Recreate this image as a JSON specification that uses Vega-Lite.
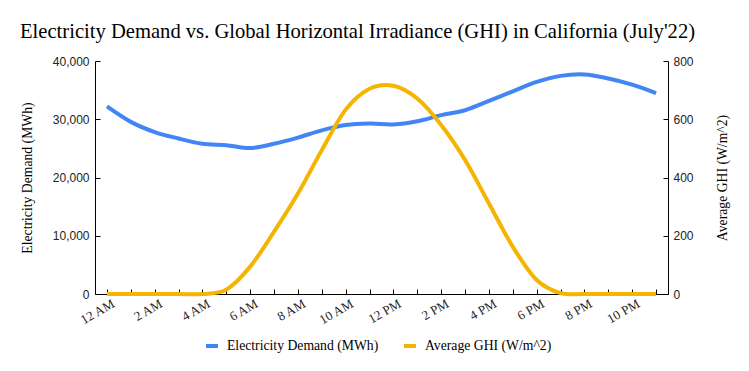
{
  "$schema": "https://vega.github.io/schema/vega-lite/v6.json",
  "autosize": "none",
  "width": 573,
  "height": 233,
  "padding": {"left": 95, "top": 61, "right": 81, "bottom": 77},
  "background": "white",
  "title": {
    "text": "Electricity Demand vs. Global Horizontal Irradiance (GHI) in California (July'22)",
    "font": "Liberation Serif",
    "fontSize": 20.6,
    "fontWeight": "normal",
    "color": "#000000",
    "anchor": "start",
    "frame": "group",
    "dx": -75,
    "offset": 12
  },
  "config": {
    "view": {"stroke": null},
    "axis": {
      "grid": false,
      "labelFont": "Liberation Sans",
      "labelFontSize": 12,
      "labelColor": "#222222",
      "titleFont": "Liberation Serif",
      "titleFontSize": 13.7,
      "titleFontWeight": "normal",
      "titleColor": "#000000",
      "domainColor": "#000000",
      "tickColor": "#000000",
      "tickSize": -5
    }
  },
  "data": {
    "values": [
      {"hour": "12 AM", "series": "Electricity Demand (MWh)", "value": 32200},
      {"hour": "1 AM", "series": "Electricity Demand (MWh)", "value": 29550},
      {"hour": "2 AM", "series": "Electricity Demand (MWh)", "value": 27800},
      {"hour": "3 AM", "series": "Electricity Demand (MWh)", "value": 26700},
      {"hour": "4 AM", "series": "Electricity Demand (MWh)", "value": 25800},
      {"hour": "5 AM", "series": "Electricity Demand (MWh)", "value": 25550},
      {"hour": "6 AM", "series": "Electricity Demand (MWh)", "value": 25050},
      {"hour": "7 AM", "series": "Electricity Demand (MWh)", "value": 25800},
      {"hour": "8 AM", "series": "Electricity Demand (MWh)", "value": 26850},
      {"hour": "9 AM", "series": "Electricity Demand (MWh)", "value": 28100},
      {"hour": "10 AM", "series": "Electricity Demand (MWh)", "value": 29000},
      {"hour": "11 AM", "series": "Electricity Demand (MWh)", "value": 29250},
      {"hour": "12 PM", "series": "Electricity Demand (MWh)", "value": 29100},
      {"hour": "1 PM", "series": "Electricity Demand (MWh)", "value": 29650},
      {"hour": "2 PM", "series": "Electricity Demand (MWh)", "value": 30700},
      {"hour": "3 PM", "series": "Electricity Demand (MWh)", "value": 31550},
      {"hour": "4 PM", "series": "Electricity Demand (MWh)", "value": 33150},
      {"hour": "5 PM", "series": "Electricity Demand (MWh)", "value": 34800},
      {"hour": "6 PM", "series": "Electricity Demand (MWh)", "value": 36400},
      {"hour": "7 PM", "series": "Electricity Demand (MWh)", "value": 37450},
      {"hour": "8 PM", "series": "Electricity Demand (MWh)", "value": 37700},
      {"hour": "9 PM", "series": "Electricity Demand (MWh)", "value": 37000},
      {"hour": "10 PM", "series": "Electricity Demand (MWh)", "value": 35950},
      {"hour": "11 PM", "series": "Electricity Demand (MWh)", "value": 34500},
      {"hour": "12 AM", "series": "Average GHI (W/m^2)", "value": 0},
      {"hour": "1 AM", "series": "Average GHI (W/m^2)", "value": 0},
      {"hour": "2 AM", "series": "Average GHI (W/m^2)", "value": 0},
      {"hour": "3 AM", "series": "Average GHI (W/m^2)", "value": 0},
      {"hour": "4 AM", "series": "Average GHI (W/m^2)", "value": 0},
      {"hour": "5 AM", "series": "Average GHI (W/m^2)", "value": 15},
      {"hour": "6 AM", "series": "Average GHI (W/m^2)", "value": 94},
      {"hour": "7 AM", "series": "Average GHI (W/m^2)", "value": 214},
      {"hour": "8 AM", "series": "Average GHI (W/m^2)", "value": 345},
      {"hour": "9 AM", "series": "Average GHI (W/m^2)", "value": 494},
      {"hour": "10 AM", "series": "Average GHI (W/m^2)", "value": 633},
      {"hour": "11 AM", "series": "Average GHI (W/m^2)", "value": 705},
      {"hour": "12 PM", "series": "Average GHI (W/m^2)", "value": 715},
      {"hour": "1 PM", "series": "Average GHI (W/m^2)", "value": 671},
      {"hour": "2 PM", "series": "Average GHI (W/m^2)", "value": 580},
      {"hour": "3 PM", "series": "Average GHI (W/m^2)", "value": 460},
      {"hour": "4 PM", "series": "Average GHI (W/m^2)", "value": 311},
      {"hour": "5 PM", "series": "Average GHI (W/m^2)", "value": 162},
      {"hour": "6 PM", "series": "Average GHI (W/m^2)", "value": 48},
      {"hour": "7 PM", "series": "Average GHI (W/m^2)", "value": 3},
      {"hour": "8 PM", "series": "Average GHI (W/m^2)", "value": 0},
      {"hour": "9 PM", "series": "Average GHI (W/m^2)", "value": 0},
      {"hour": "10 PM", "series": "Average GHI (W/m^2)", "value": 0},
      {"hour": "11 PM", "series": "Average GHI (W/m^2)", "value": 0}
    ]
  },
  "encoding": {
    "x": {
      "field": "hour",
      "type": "ordinal",
      "sort": null,
      "scale": {"type": "point", "padding": 0.5},
      "axis": {
        "title": null,
        "labelFont": "Liberation Serif",
        "labelFontSize": 13,
        "labelAngle": -30,
        "labelAlign": "right",
        "labelBaseline": "top",
        "labelPadding": 8,
        "labelOffset": 3,
        "labelOverlap": false,
        "labelExpr": "indexof(['12 AM','2 AM','4 AM','6 AM','8 AM','10 AM','12 PM','2 PM','4 PM','6 PM','8 PM','10 PM'], datum.label) >= 0 ? datum.label : ''"
      }
    },
    "color": {
      "field": "series",
      "type": "nominal",
      "scale": {
        "domain": ["Electricity Demand (MWh)", "Average GHI (W/m^2)"],
        "range": ["#4285F4", "#F4B400"]
      },
      "legend": {
        "title": null,
        "orient": "none",
        "direction": "horizontal",
        "legendX": 109,
        "legendY": 277,
        "symbolType": "stroke",
        "symbolStrokeWidth": 4,
        "symbolSize": 144,
        "columnPadding": 17,
        "labelOffset": 7,
        "labelFont": "Liberation Serif",
        "labelFontSize": 13.7,
        "labelColor": "#000000"
      }
    }
  },
  "layer": [
    {
      "transform": [{"filter": "datum.series === 'Electricity Demand (MWh)'"}],
      "mark": {"type": "line", "interpolate": "cardinal", "strokeWidth": 4},
      "encoding": {
        "y": {
          "field": "value",
          "type": "quantitative",
          "scale": {"domain": [0, 40000]},
          "axis": {
            "title": "Electricity Demand (MWh)",
            "orient": "left",
            "values": [0, 10000, 20000, 30000, 40000],
            "format": ",.0f",
            "labelPadding": 11,
            "titlePadding": 18
          }
        }
      }
    },
    {
      "transform": [{"filter": "datum.series === 'Average GHI (W/m^2)'"}],
      "mark": {"type": "line", "interpolate": "cardinal", "strokeWidth": 4},
      "encoding": {
        "y": {
          "field": "value",
          "type": "quantitative",
          "scale": {"domain": [0, 800]},
          "axis": {
            "title": "Average GHI (W/m^2)",
            "orient": "right",
            "values": [0, 200, 400, 600, 800],
            "labelPadding": 10,
            "titlePadding": 36,
            "titleAngle": 270
          }
        }
      }
    }
  ],
  "resolve": {"scale": {"y": "independent"}}
}
